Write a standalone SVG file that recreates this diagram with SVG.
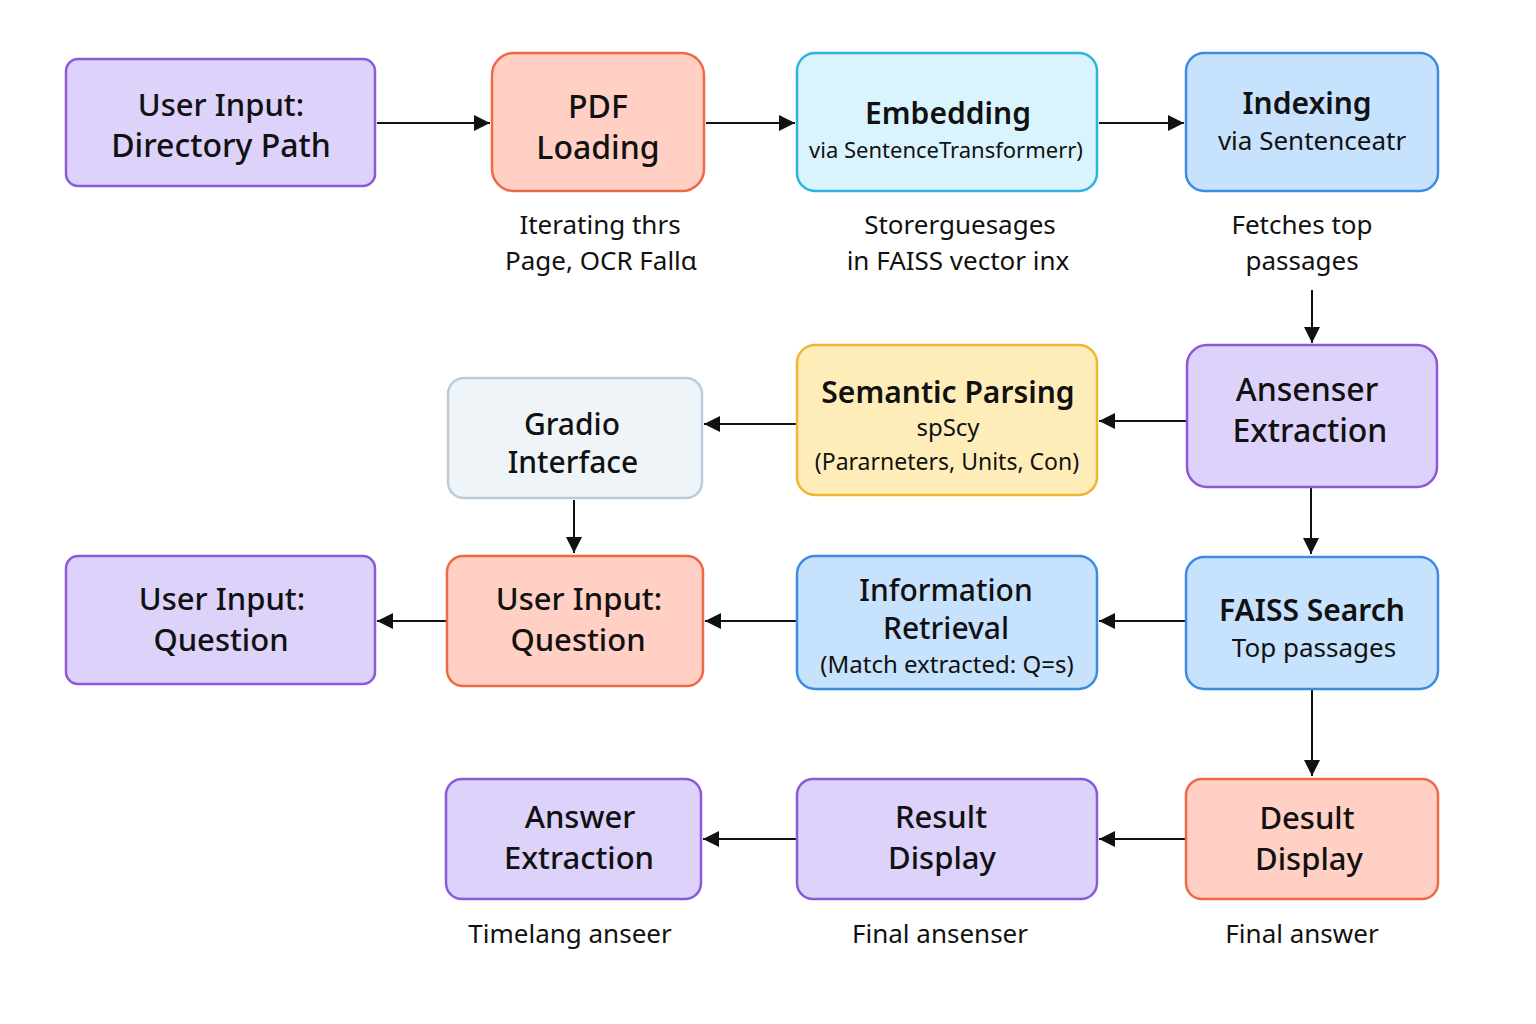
<svg xmlns="http://www.w3.org/2000/svg" width="1536" height="1024" viewBox="0 0 1536 1024">
<defs>
<marker id="ah" viewBox="0 0 10 10" refX="10" refY="5" markerWidth="16" markerHeight="16" markerUnits="userSpaceOnUse" orient="auto">
<path d="M0,0 L10,5 L0,10 z" fill="#111"/>
</marker>
<style>
.n rect{stroke-width:2.5}
.purple rect{fill:#DCD2FA;stroke:#8A5AD8}
.salmon rect{fill:#FFD0C3;stroke:#EE6A47}
.cyan rect{fill:#D9F4FD;stroke:#2DB4DD}
.blue rect{fill:#C7E2FD;stroke:#3B8CE2}
.yellow rect{fill:#FFEDB9;stroke:#F2B532}
.grey rect{fill:#EFF4F8;stroke:#BDCCDA}
text{font-family:"Noto Sans","Open Sans",sans-serif;fill:#111;text-anchor:middle}
.t{font-size:30px;font-weight:500}
.b{font-size:30px;font-weight:600}
.s{font-size:24px}
.c{font-size:26px}
.e line{stroke:#111;stroke-width:2;marker-end:url(#ah)}
</style>
</defs>
<rect width="1536" height="1024" fill="#fff"/>
<g class="e" id="connectors">
<line x1="377" y1="123" x2="490" y2="123"/>
<line x1="706" y1="123" x2="795" y2="123"/>
<line x1="1099" y1="123" x2="1184" y2="123"/>
<line x1="1312" y1="290" x2="1312" y2="343"/>
<line x1="1186" y1="421" x2="1099" y2="421"/>
<line x1="796" y1="424" x2="704" y2="424"/>
<line x1="574" y1="500" x2="574" y2="553"/>
<line x1="1311" y1="488" x2="1311" y2="554"/>
<line x1="1186" y1="621" x2="1099" y2="621"/>
<line x1="797" y1="621" x2="705" y2="621"/>
<line x1="446" y1="621" x2="377" y2="621"/>
<line x1="1312" y1="690" x2="1312" y2="776"/>
<line x1="1186" y1="839" x2="1099" y2="839"/>
<line x1="797" y1="839" x2="703" y2="839"/>
</g>
<g id="n1" class="n purple"><rect x="66" y="59" width="309" height="127" rx="12"/><text class="t" x="221" y="116" style="font-size:31px">User Input:</text><text class="t" x="221" y="157" style="font-size:32px">Directory Path</text></g>
<g id="n2" class="n salmon"><rect x="492" y="53" width="212" height="138" rx="22"/><text class="t" x="598" y="118" style="font-size:32px">PDF</text><text class="t" x="598" y="159" style="font-size:32px">Loading</text></g>
<g id="n3" class="n cyan"><rect x="797" y="53" width="300" height="138" rx="18"/><text class="b" x="948" y="124">Embedding</text><text x="946" y="158" style="font-size:22px">via SentenceTransformerr)</text></g>
<g id="n4" class="n blue"><rect x="1186" y="53" width="252" height="138" rx="18"/><text class="b" x="1307" y="114">Indexing</text><text class="c" x="1312" y="150">via Sentenceatr</text></g>
<g id="l1"><text class="c" x="600" y="234">Iterating thrs</text><text class="c" x="601" y="270">Page, OCR Fallα</text></g>
<g id="l2"><text class="c" x="960" y="234">Storerguesages</text><text class="c" x="958" y="270">in FAISS vector inx</text></g>
<g id="l3"><text class="c" x="1302" y="234">Fetches top</text><text class="c" x="1302" y="270">passages</text></g>
<g id="n5" class="n grey"><rect x="448" y="378" width="254" height="120" rx="16"/><text class="t" x="572" y="435">Gradio</text><text class="t" x="573" y="473">Interface</text></g>
<g id="n6" class="n yellow"><rect x="797" y="345" width="300" height="150" rx="18"/><text class="b" x="948" y="403">Semantic Parsing</text><text class="s" x="948" y="436">spScy</text><text x="947" y="470" style="font-size:23px">(Pararneters, Units, Con)</text></g>
<g id="n7" class="n purple"><rect x="1187" y="345" width="250" height="142" rx="20"/><text class="t" x="1307" y="401" style="font-size:32px">Ansenser</text><text class="t" x="1310" y="442" style="font-size:32px">Extraction</text></g>
<g id="n8" class="n purple"><rect x="66" y="556" width="309" height="128" rx="12"/><text class="t" x="222" y="610" style="font-size:31px">User Input:</text><text class="t" x="221" y="651" style="font-size:31px">Question</text></g>
<g id="n9" class="n salmon"><rect x="447" y="556" width="256" height="130" rx="16"/><text class="t" x="579" y="610" style="font-size:31px">User Input:</text><text class="t" x="578" y="651" style="font-size:31px">Question</text></g>
<g id="n10" class="n blue"><rect x="797" y="556" width="300" height="133" rx="18"/><text class="t" x="946" y="601">Information</text><text class="t" x="946" y="639">Retrieval</text><text class="s" x="947" y="673">(Match extracted: Q=s)</text></g>
<g id="n11" class="n blue"><rect x="1186" y="557" width="252" height="132" rx="18"/><text class="b" x="1312" y="621">FAISS Search</text><text class="c" x="1314" y="657">Top passages</text></g>
<g id="n12" class="n purple"><rect x="446" y="779" width="255" height="120" rx="16"/><text class="t" x="580" y="828" style="font-size:31px">Answer</text><text class="t" x="579" y="869" style="font-size:31px">Extraction</text></g>
<g id="n13" class="n purple"><rect x="797" y="779" width="300" height="120" rx="16"/><text class="t" x="941" y="828" style="font-size:31px">Result</text><text class="t" x="942" y="869" style="font-size:31px">Display</text></g>
<g id="n14" class="n salmon"><rect x="1186" y="779" width="252" height="120" rx="16"/><text class="t" x="1307" y="829" style="font-size:31px">Desult</text><text class="t" x="1309" y="870" style="font-size:31px">Display</text></g>
<g id="l4"><text class="c" x="570" y="943">Timelang anseer</text><text class="c" x="940" y="943">Final ansenser</text><text class="c" x="1302" y="943">Final answer</text></g>
</svg>
